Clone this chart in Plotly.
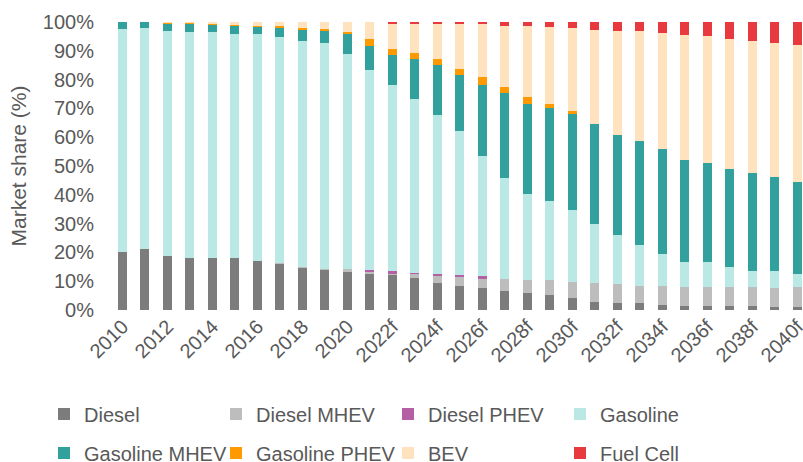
import plotly.graph_objects as go

years = ["2010", "2011", "2012", "2013", "2014", "2015", "2016", "2017", "2018", "2019",
         "2020", "2021", "2022f", "2023f", "2024f", "2025f", "2026f", "2027f", "2028f", "2029f",
         "2030f", "2031f", "2032f", "2033f", "2034f", "2035f", "2036f", "2037f", "2038f", "2039f", "2040f"]

diesel = [20.0, 21.2, 18.9, 18.0, 18.0, 18.0, 17.0, 16.0, 14.7, 14.2,
          13.3, 12.8, 12.0, 11.1, 9.3, 8.4, 7.5, 6.6, 5.8, 5.3,
          4.1, 2.7, 2.3, 2.3, 1.8, 1.4, 1.4, 1.4, 1.4, 0.9, 0.9]
diesel_mhev = [0, 0, 0, 0, 0, 0, 0, 0.3, 0.2, 0.2,
               0.9, 0.4, 0.8, 1.7, 2.6, 3.1, 3.6, 4.1, 4.5, 5.0,
               5.7, 6.7, 6.6, 6.1, 6.6, 6.7, 6.7, 6.7, 6.7, 6.7, 7.2]
diesel_phev = [0, 0, 0, 0, 0, 0, 0, 0, 0, 0,
               0, 0.7, 0.6, 0.2, 0.6, 0.6, 0.6, 0, 0, 0,
               0, 0, 0, 0, 0, 0, 0, 0, 0, 0, 0]
gasoline = [77.7, 76.8, 78.1, 78.5, 78.5, 77.7, 78.7, 78.5, 78.5, 78.2,
            74.8, 69.3, 64.9, 60.4, 55.1, 50.2, 41.7, 35.2, 30.1, 27.4,
            24.9, 20.4, 17.0, 14.3, 11.2, 8.4, 8.4, 6.7, 5.3, 5.8, 4.4]
gasoline_mhev = [2.3, 2.0, 2.4, 2.9, 2.6, 3.1, 2.6, 3.3, 4.1, 4.5,
                 6.7, 8.6, 10.2, 13.8, 17.4, 19.2, 24.9, 29.3, 31.2, 32.6,
                 33.3, 34.7, 35.0, 36.0, 36.4, 35.5, 34.6, 34.1, 34.1, 32.9, 32.0]
gasoline_phev = [0, 0, 0.4, 0.4, 0.3, 0.1, 0.2, 0.4, 0.4, 0.3,
                 0.9, 2.2, 2.3, 1.9, 2.2, 2.3, 2.7, 2.2, 2.2, 1.3,
                 1.0, 0, 0, 0, 0, 0, 0, 0, 0, 0, 0]
bev = [0, 0, 0.2, 0.2, 0.6, 1.1, 1.5, 1.5, 2.1, 2.6,
       3.4, 6.0, 8.7, 10.4, 12.3, 15.4, 18.2, 21.1, 24.7, 26.5,
       28.8, 32.8, 35.9, 38.1, 40.3, 43.5, 43.9, 45.3, 45.8, 46.5, 47.4]
fuel_cell = [0, 0, 0, 0, 0, 0, 0, 0, 0, 0,
             0, 0, 0.5, 0.5, 0.5, 0.8, 0.8, 1.5, 1.5, 1.9,
             2.2, 2.7, 3.2, 3.2, 3.7, 4.5, 5.0, 5.8, 6.7, 7.2, 8.1]

y_ticks = [0, 10, 20, 30, 40, 50, 60, 70, 80, 90, 100]
y_ticklabels = [f"{v}%" for v in y_ticks]

series = [
    ("Diesel", diesel, "#7c7c7c", "legend"),
    ("Diesel MHEV", diesel_mhev, "#bdbdbd", "legend"),
    ("Diesel PHEV", diesel_phev, "#b55fa5", "legend"),
    ("Gasoline", gasoline, "#b9e8e5", "legend"),
    ("Gasoline MHEV", gasoline_mhev, "#32a09c", "legend2"),
    ("Gasoline PHEV", gasoline_phev, "#ff9900", "legend2"),
    ("BEV", bev, "#ffe3bf", "legend2"),
    ("Fuel Cell", fuel_cell, "#e8393f", "legend2"),
]

FONT = "Liberation Sans, Arial, sans-serif"
GREY = "#595959"

fig = go.Figure()
for name, vals, color, leg in series:
    fig.add_trace(go.Bar(
        x=years, y=vals, name=name, legend=leg,
        marker=dict(color=color, line=dict(width=0)),
    ))

W, H = 803, 462
ml, mr, mt, mb = 111, 0, 22, 152
pw = W - ml - mr
ph = H - mt - mb

def px_x(xpix):
    return (xpix - ml) / pw

def px_y(ypix):
    return (H - mb - ypix) / ph

legend_common = dict(
    orientation="h", xanchor="left", yanchor="middle",
    font=dict(family=FONT, size=20, color=GREY),
    entrywidth=127, entrywidthmode="pixels",
    bgcolor="rgba(0,0,0,0)", traceorder="normal",
    itemclick=False, itemdoubleclick=False,
)

fig.update_layout(
    width=W, height=H,
    margin=dict(l=ml, r=mr, t=mt, b=mb, autoexpand=False),
    barmode="stack", bargap=0.6,
    plot_bgcolor="white", paper_bgcolor="white",
    font=dict(family=FONT, size=20, color=GREY),
    legend=dict(x=px_x(44), y=px_y(414), **legend_common),
    legend2=dict(x=px_x(44), y=px_y(453), **legend_common),
    xaxis=dict(
        type="category", range=[-0.51, 30.25],
        tickmode="array", tickvals=years[::2], ticktext=years[::2],
        tickangle=-45, showgrid=False, showline=False, zeroline=False,
        tickfont=dict(family=FONT, size=20, color=GREY),
    ),
    yaxis=dict(
        range=[0, 100], tickmode="array", tickvals=y_ticks, ticktext=y_ticklabels,
        showgrid=False, showline=False, zeroline=False,
        tickfont=dict(family=FONT, size=20, color=GREY),
        ticklabelstandoff=16,
        title=dict(text="Market share (%)", standoff=10,
                   font=dict(family=FONT, size=21, color=GREY)),
    ),
)

fig.write_html("out.html", config={"displayModeBar": False},
               post_script="document.body.style.margin='0px';")
